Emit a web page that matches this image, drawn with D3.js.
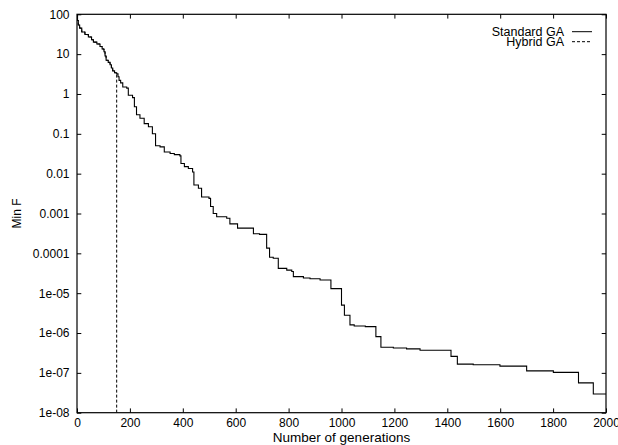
<!DOCTYPE html>
<html>
<head>
<meta charset="utf-8">
<script src="https://cdn.jsdelivr.net/npm/d3@7"></script>
<style>
  html, body { margin: 0; padding: 0; background: #fff; }
  svg { display: block; }
  text { font-family: "Liberation Sans", Arial, Helvetica, sans-serif; fill: #000; }
</style>
</head>
<body>
<svg id="chart" width="618" height="445"></svg>
<script>
// ---- data ----
const standardGens = [0, 2, 5, 10, 18, 30, 43, 55, 62, 75, 87, 95, 102, 106, 110, 118, 125, 130, 135, 142,
  150, 155, 159, 165, 173, 188, 194, 210, 217, 225, 238, 254, 270, 285, 297, 314, 330, 352, 368, 389,
  393, 406, 421, 437, 442, 459, 471, 499, 505, 515, 528, 566, 578, 607, 667, 690, 717, 728, 742, 761,
  793, 812, 818, 856, 881, 919, 960, 1000, 1011, 1032, 1048, 1090, 1130, 1149, 1196, 1246, 1297, 1414,
  1438, 1498, 1599, 1700, 1801, 1896, 1952, 2000];
const standardValues = [100, 70, 54, 45, 36, 31, 27, 23, 20, 18, 15.5, 13.5, 11.5, 9, 7, 6.2, 5.4, 4.5, 3.8, 3.4,
  3.2, 2.7, 2.2, 1.9, 1.5, 1.4, 0.93, 0.81, 0.48, 0.3, 0.245, 0.18, 0.15, 0.10, 0.05, 0.047, 0.035, 0.032, 0.030, 0.028,
  0.018, 0.015, 0.0135, 0.011, 0.0052, 0.0043, 0.0026, 0.0024, 0.0015, 0.001, 0.00083, 0.00076, 0.00055, 0.00043, 0.00031, 0.0003, 0.000135, 0.00008, 0.000075, 0.000042,
  0.000038, 0.000035, 0.000026, 0.000024, 0.000023, 0.0000215, 0.000013, 0.000005, 0.0000028, 0.0000016, 0.0000015, 0.00000145, 0.00000081, 0.00000044, 0.00000042, 0.00000040, 0.00000037, 0.00000026,
  0.000000166, 0.00000016, 0.000000148, 0.000000112, 0.000000103, 0.000000056, 0.0000000295, 0.0000000295];
const hybridGens = [0, 2, 5, 10, 18, 30, 43, 55, 62, 75, 87, 95, 102, 106, 110, 118, 125, 130, 135, 142, 150, 150];
const hybridValues = [100, 70, 54, 45, 36, 31, 27, 23, 20, 18, 15.5, 13.5, 11.5, 9, 7, 6.2, 5.4, 4.5, 3.8, 3.4, 3.2, 1e-9];
const xTicks = [0, 200, 400, 600, 800, 1000, 1200, 1400, 1600, 1800, 2000];
const yTicks = [100, 10, 1, 0.1, 0.01, 0.001, 0.0001, 1e-5, 1e-6, 1e-7, 1e-8];
const yTickLabels = ["100", "10", "1", "0.1", "0.01", "0.001", "0.0001", "1e-05", "1e-06", "1e-07", "1e-08"];
const seriesNames = ["Standard GA", "Hybrid GA"];

// ---- layout ----
const svg = d3.select("#chart");
const pL = 77, pR = 606, pT = 14.3, pB = 412.7;
const x = d3.scaleLinear().domain([0, 2000]).range([pL, pR]);
const y = d3.scaleLog().domain([1e-8, 100]).range([pB, pT]);

svg.append("defs").append("clipPath").attr("id", "plotclip")
  .append("rect").attr("x", pL).attr("y", pT).attr("width", pR - pL).attr("height", pB - pT);

// axes with inward ticks
const tickLen = 4.3;
const axB = d3.axisBottom(x).tickValues(xTicks).tickSizeInner(-tickLen).tickSizeOuter(0).tickPadding(6).tickFormat(d3.format("d"));
const axT = d3.axisTop(x).tickValues(xTicks).tickSizeInner(-tickLen).tickSizeOuter(0).tickFormat("");
const axL = d3.axisLeft(y).tickValues(yTicks).tickSizeInner(-tickLen).tickSizeOuter(0).tickPadding(7.5)
  .tickFormat((d, i) => yTickLabels[i]);
const axR = d3.axisRight(y).tickValues(yTicks).tickSizeInner(-tickLen).tickSizeOuter(0).tickFormat("");

function style(g) {
  g.select(".domain").remove();
  g.selectAll(".tick line").attr("stroke", "#000").attr("stroke-width", 1);
  g.selectAll(".tick text").style("font-family", "'Liberation Sans', Arial, sans-serif").style("font-size", "12px").attr("fill", "#000");
}
svg.append("g").attr("transform", `translate(0,${pB})`).call(axB).call(style);
svg.append("g").attr("transform", `translate(0,${pT})`).call(axT).call(style);
svg.append("g").attr("transform", `translate(${pL},0)`).call(axL).call(style);
svg.append("g").attr("transform", `translate(${pR},0)`).call(axR).call(style);

// frame
svg.append("rect").attr("x", pL).attr("y", pT).attr("width", pR - pL).attr("height", pB - pT)
  .attr("fill", "none").attr("stroke", "#000").attr("stroke-width", 1.2);

// series
const line = d3.line().x(d => x(d[0])).y(d => y(d[1])).curve(d3.curveStepAfter);
const hybridData = hybridGens.map((g, i) => [g, hybridValues[i]]);
const standardData = standardGens.map((g, i) => [g, standardValues[i]]);
const plot = svg.append("g").attr("clip-path", "url(#plotclip)");
plot.append("path").datum(hybridData).attr("d", line)
  .attr("fill", "none").attr("stroke", "#000").attr("stroke-width", 1).attr("stroke-dasharray", "3,2");
plot.append("path").datum(standardData).attr("d", line)
  .attr("fill", "none").attr("stroke", "#000").attr("stroke-width", 1.1);

// legend
const legendY = [36, 46];
const legendDash = [null, "3,2"];
seriesNames.forEach((name, i) => {
  svg.append("text").attr("x", 564).attr("y", legendY[i]).attr("text-anchor", "end")
    .style("font-size", "12.5px").text(name);
  svg.append("line").attr("x1", 572).attr("x2", 592).attr("y1", legendY[i] - 4.3).attr("y2", legendY[i] - 4.3)
    .attr("stroke", "#000").attr("stroke-width", 1).attr("stroke-dasharray", legendDash[i]);
});

// axis titles
svg.append("text").attr("x", (pL + pR) / 2).attr("y", 442).attr("text-anchor", "middle")
  .style("font-size", "13.5px").text("Number of generations");
svg.append("text").attr("transform", `translate(21,${(pT + pB) / 2}) rotate(-90)`).attr("text-anchor", "middle")
  .style("font-size", "12px").text("Min F");
</script>
</body>
</html>
